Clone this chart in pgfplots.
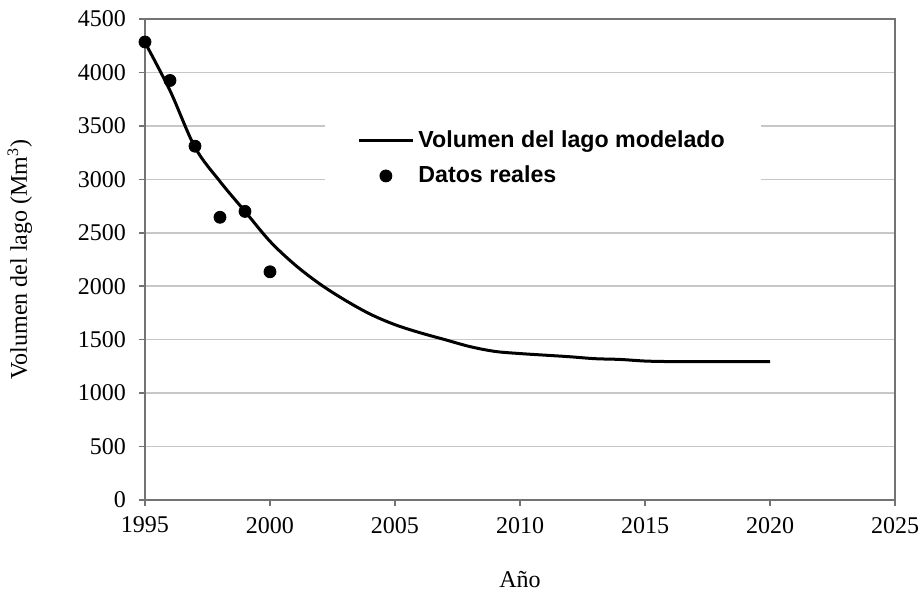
\documentclass[border=0pt]{standalone}
\usepackage{pgfplots}
\pgfplotsset{compat=1.18}
\usepackage{fontspec}
\setmainfont{Liberation Serif}
\newfontfamily\legfont{Liberation Sans}
\definecolor{framegray}{gray}{0.45}
\definecolor{gridgray}{gray}{0.78}
\pgfplotsset{
  legend image code/.code={\draw[mark repeat=2,mark phase=2,#1] plot coordinates {(0pt,0pt) (13.5pt,0pt) (27pt,0pt)};}
}
\begin{document}
\begin{tikzpicture}
\useasboundingbox (-72.5pt,-46.5pt) rectangle (388.5pt,250pt);
\begin{axis}[
  scale only axis,
  width=375pt, height=240.5pt,
  xmin=1995, xmax=2025,
  ymin=0, ymax=4500,
  xtick={1995,2000,...,2025},
  ytick={0,500,...,4500},
  ymajorgrids,
  grid style={gridgray, line width=0.8pt},
  axis line style={framegray, line width=1.1pt},
  tick style={framegray, line width=0.8pt},
  tick align=outside,
  tick pos=left,
  major tick length=3pt,
  font=\fontsize{12}{14}\selectfont,
  /pgf/number format/assume math mode=true,
  /pgf/number format/1000 sep={},
  xticklabel style={yshift=-2pt},
  yticklabel style={xshift=-3pt},
  xlabel={Año},
  ylabel={Volumen del lago (Mm\textsuperscript{3})},
  xlabel style={at={(axis description cs:0.5,-0.166)}, anchor=center},
  ylabel style={at={(axis description cs:-0.167,0.5)}, anchor=center},
  legend style={
    at={(axis description cs:0.24,0.807)}, anchor=north west,
    draw=none, fill=white, inner xsep=16pt, inner ysep=7pt,
    font=\legfont\bfseries\fontsize{11.6}{13}\selectfont,
    row sep=4pt, cells={anchor=west},
  },
  legend cell align=left,
]
\addplot[black, line width=1.5pt, smooth, tension=0.55] coordinates {
  (1995,4280) (1996,3830) (1997,3300) (1998,2980) (1999,2700)
  (2000,2420) (2001,2200) (2002,2020) (2003,1870) (2004,1740)
  (2005,1640) (2006,1565) (2007,1500) (2008,1435) (2009,1390)
  (2010,1370) (2011,1355) (2012,1340) (2013,1322) (2014,1315)
  (2015,1300) (2016,1295) (2017,1295) (2018,1295) (2019,1295)
  (2020,1295)
};
\addlegendentry{Volumen del lago modelado}
\addplot[only marks, mark=*, mark size=3pt, black] coordinates {
  (1995,4285) (1996,3925) (1997,3310) (1998,2645) (1999,2700) (2000,2135)
};
\addlegendentry{Datos reales}
\end{axis}
\end{tikzpicture}
\end{document}
